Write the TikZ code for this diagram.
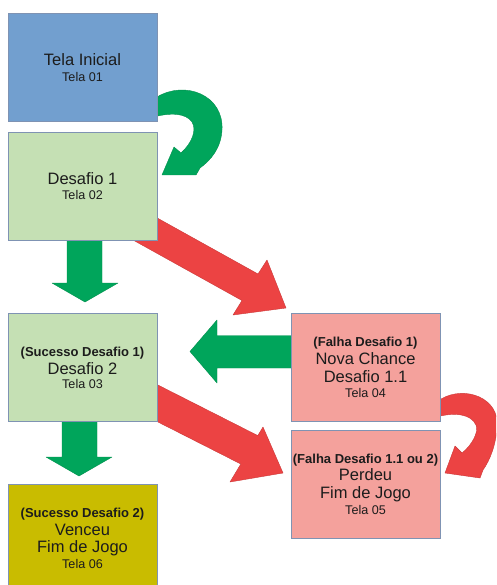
\documentclass[tikz,border=0pt]{standalone}
\usepackage{fontspec}
\setmainfont{Liberation Sans}
\definecolor{boxblue}{HTML}{729FCF}
\definecolor{boxgreen}{HTML}{C5E0B4}
\definecolor{boxolive}{HTML}{C9BC00}
\definecolor{boxpink}{HTML}{F4A19C}
\definecolor{boxline}{HTML}{7F93B3}
\definecolor{arrgreen}{HTML}{00A55B}
\definecolor{arrgreenD}{HTML}{00904E}
\definecolor{arrred}{HTML}{EC4343}
\definecolor{arrredD}{HTML}{CC3838}
\definecolor{txt}{HTML}{1C1C1C}
\tikzset{
  screen/.style={draw=boxline, line width=0.6pt, inner sep=0pt},
  garrow/.style={fill=arrgreen, draw=arrgreenD, line width=0.4pt, line join=round},
  rarrow/.style={fill=arrred, draw=arrredD, line width=0.4pt, line join=round},
  ttl/.style={font=\fontsize{16.5}{18}\selectfont, text=txt, anchor=base, inner sep=0pt},
  bld/.style={font=\fontsize{13}{15}\selectfont\bfseries, text=txt, anchor=base, inner sep=0pt},
  tela/.style={font=\fontsize{12.6}{14}\selectfont, text=txt, anchor=base, inner sep=0pt}
}
\begin{document}
\begin{tikzpicture}[x=1pt, y=-1pt]
\useasboundingbox (0,0) rectangle (496,585);
\clip (0,0) rectangle (496,585);
\fill[white] (0,0) rectangle (496,585);

% ---- arrows (behind boxes) ----
\path[garrow] (157,97) .. controls (185,80) and (224,95) .. (222,130)
  .. controls (221,148) and (211,160) .. (200,168) -- (196,175) -- (162,175)
  -- (174,147) -- (181,153) .. controls (192,143) and (197,130) .. (192,122)
  .. controls (186,113) and (170,112) .. (150,118) -- (150,97) -- cycle;
\path[rarrow] (441,399) .. controls (465,385) and (500,398) .. (497,427)
  .. controls (496,445) and (490,460) .. (483,470) -- (480,478) -- (445,473)
  -- (455,446) -- (462,453) .. controls (472,445) and (479,432) .. (476,425)
  .. controls (471,414) and (455,412) .. (436,417) -- (436,399) -- cycle;
\path[garrow] (67,236) -- (102,236) -- (102,283) -- (118,283) -- (85,302)
  -- (52,283) -- (67,283) -- cycle;
\path[garrow] (62,418) -- (97,418) -- (97,457) -- (112,457) -- (79,476)
  -- (46,457) -- (62,457) -- cycle;
\path[garrow] (294,335.5) -- (217,335.5) -- (217,320) -- (190,351.5)
  -- (217,383) -- (217,368) -- (294,368) -- cycle;
\path[rarrow] (150,214) -- (258,274) -- (267,260) -- (286,308) -- (233,315)
  -- (242,300.5) -- (133,240) -- cycle;
\path[rarrow] (150,381) -- (257.8,435.6) -- (263,427) -- (283,473) -- (230,482)
  -- (240.8,464) -- (158,422) -- (150,418) -- cycle;

% ---- screens ----
\node[screen, fill=boxblue, minimum width=149pt, minimum height=108pt, anchor=north west] (t1) at (8,13) {};
\node[screen, fill=boxgreen, minimum width=149pt, minimum height=108pt, anchor=north west] (t2) at (8,132) {};
\node[screen, fill=boxgreen, minimum width=149pt, minimum height=108pt, anchor=north west] (t3) at (8,313) {};
\node[screen, fill=boxolive, minimum width=149pt, minimum height=108pt, anchor=north west] (t6) at (8,484) {};
\node[screen, fill=boxpink, minimum width=149pt, minimum height=108pt, anchor=north west] (t4) at (291,313) {};
\node[screen, fill=boxpink, minimum width=149pt, minimum height=108pt, anchor=north west] (t5) at (291,430) {};

% ---- texts ----
\node[ttl] (t1a) at (82.5,66) {Tela Inicial};
\node[tela] (t1b) at (82.5,81.5) {Tela 01};

\node[ttl] (t2a) at (82.5,185) {Desafio 1};
\node[tela] (t2b) at (82.5,200) {Tela 02};

\node[bld] (t3a) at (82.5,356.5) {(Sucesso Desafio 1)};
\node[ttl] (t3b) at (82.5,374) {Desafio 2};
\node[tela] (t3c) at (82.5,388.5) {Tela 03};

\node[bld] (t6a) at (82.5,517.3) {(Sucesso Desafio 2)};
\node[ttl] (t6b) at (82.5,535) {Venceu};
\node[ttl] (t6c) at (82.5,552.5) {Fim de Jogo};
\node[tela] (t6d) at (82.5,568.3) {Tela 06};

\node[bld] (t4a) at (365.5,346.7) {(Falha Desafio 1)};
\node[ttl] (t4b) at (365.5,364.3) {Nova Chance};
\node[ttl] (t4c) at (365.5,382.7) {Desafio 1.1};
\node[tela] (t4d) at (365.5,397.7) {Tela 04};

\node[bld] (t5a) at (365.5,463.3) {(Falha Desafio 1.1 ou 2)};
\node[ttl] (t5b) at (365.5,480.7) {Perdeu};
\node[ttl] (t5c) at (365.5,498.3) {Fim de Jogo};
\node[tela] (t5d) at (365.5,514) {Tela 05};
\end{tikzpicture}
\end{document}
